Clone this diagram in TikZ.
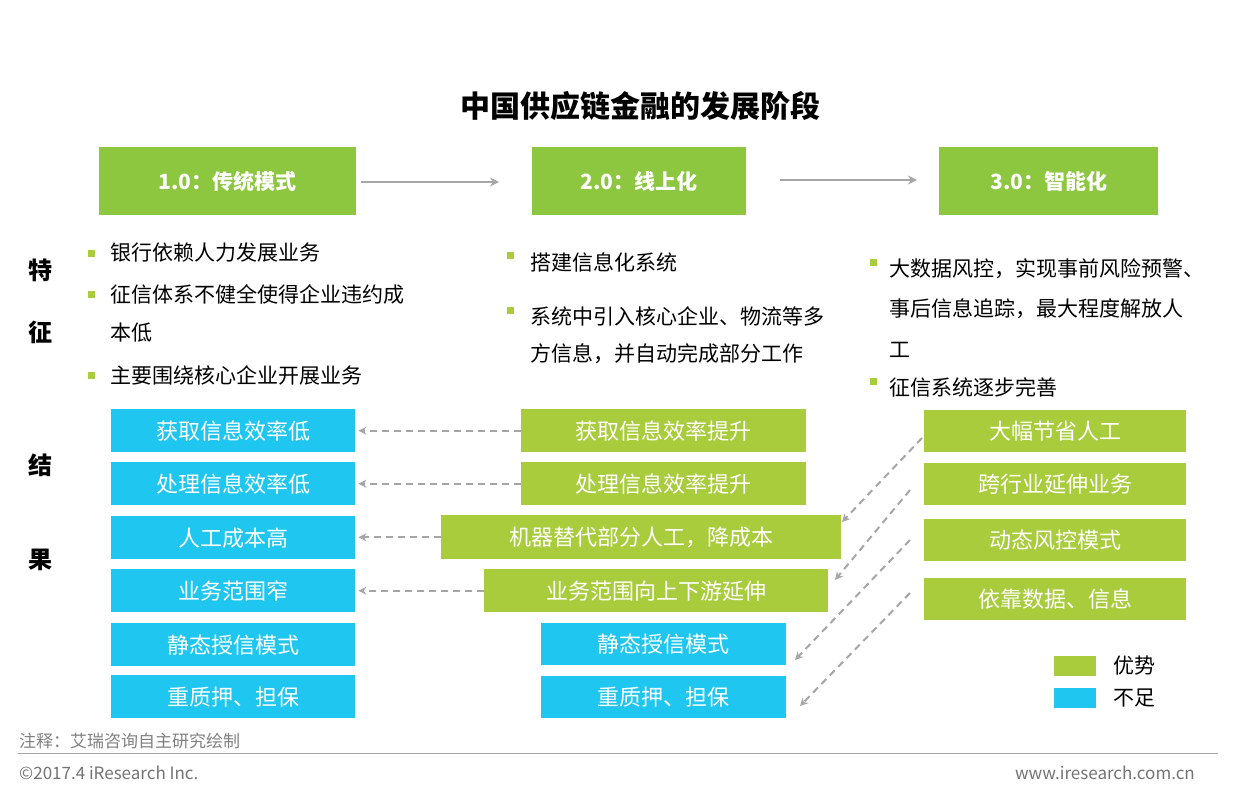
\documentclass[tikz,border=0pt]{standalone}
\usepackage{fontspec}
\setmainfont{Noto Sans CJK SC}
\usetikzlibrary{arrows.meta, positioning}
\definecolor{hdgreen}{HTML}{8DC63F}
\definecolor{resgreen}{HTML}{A8CC3C}
\definecolor{resblue}{HTML}{1FC6F0}
\definecolor{arrgray}{HTML}{A6A6A6}
\begin{document}
\begin{tikzpicture}[
    x=1pt, y=-1pt,
    head/.style={fill=hdgreen, text=white, font=\fontsize{21}{24}\selectfont\bfseries, anchor=north west, inner sep=0pt},
    res/.style={text=white, font=\fontsize{22}{26}\selectfont, anchor=north west, inner sep=0pt},
    pro/.style={res, fill=resgreen},
    con/.style={res, fill=resblue},
    txt/.style={font=\fontsize{21}{25}\selectfont, anchor=west, inner sep=0pt},
    side/.style={font=\fontsize{24}{26}\selectfont\bfseries, inner sep=0pt},
    bul/.style={fill=resgreen, minimum size=7pt, inner sep=0pt},
    arrow/.style={-{Stealth[length=9pt,width=9pt]}, arrgray, line width=2pt},
    dasharrow/.style={-{Stealth[length=8pt,width=8pt]}, arrgray, line width=2pt, dash pattern=on 7pt off 5pt}
]
\useasboundingbox (0,0) rectangle (1258,792);

% Title
\node[font=\fontsize{30}{32}\selectfont\bfseries] (title) at (640,106) {中国供应链金融的发展阶段};

% Stage headers
\node[head, minimum width=257pt, minimum height=68pt] (s1) at (99,147) {1.0：传统模式};
\node[head, minimum width=214pt, minimum height=68pt] (s2) at (532,147) {2.0：线上化};
\node[head, minimum width=219pt, minimum height=68pt] (s3) at (939,147) {3.0：智能化};
\coordinate (a1) at (361,182);
\coordinate (b1) at (499,182);
\draw[arrow] (a1) -- (b1);
\coordinate (a2) at (780,180);
\coordinate (b2) at (917,180);
\draw[arrow] (a2) -- (b2);

% Side labels
\node[side] (t1) at (40,270) {特};
\node[side] (t2) at (40,332) {征};
\node[side] (t3) at (40,465) {结};
\node[side] (t4) at (40,560) {果};

% Features
\foreach \y in {253,294,375} \node[bul] at (91,\y) {};
\node[txt] (f1) at (110,253) {银行依赖人力发展业务};
\node[txt] (f2) at (110,294) {征信体系不健全使得企业违约成};
\node[txt] (f3) at (110,333) {本低};
\node[txt] (f4) at (110,375) {主要围绕核心企业开展业务};

\foreach \y in {255,310} \node[bul] at (510,\y) {};
\node[txt] (g1) at (530,262) {搭建信息化系统};
\node[txt] (g2) at (530,316) {系统中引入核心企业、物流等多};
\node[txt] (g3) at (530,354) {方信息，并自动完成部分工作};

\foreach \y in {262,381} \node[bul] at (873,\y) {};
\node[txt] (h1) at (889,269) {大数据风控，实现事前风险预警、};
\node[txt] (h2) at (889,309) {事后信息追踪，最大程度解放人};
\node[txt] (h3) at (889,350) {工};
\node[txt] (h4) at (889,387) {征信系统逐步完善};

% Results: stage 1
\foreach \i/\y/\t in {1/409/获取信息效率低, 2/462/处理信息效率低, 3/516/人工成本高,
                      4/569/业务范围窄, 5/623/静态授信模式, 6/675/重质押、担保}
    \node[con, minimum width=244pt, minimum height=43pt] (c\i) at (111,\y) {\t};

% Results: stage 2
\node[pro, minimum width=285pt, minimum height=43pt] (p1) at (521,409) {获取信息效率提升};
\node[pro, minimum width=285pt, minimum height=43pt] (p2) at (521,462) {处理信息效率提升};
\node[pro, minimum width=400pt, minimum height=44pt] (p3) at (441,515) {机器替代部分人工，降成本};
\node[pro, minimum width=344pt, minimum height=43pt] (p4) at (484,569) {业务范围向上下游延伸};
\node[con, minimum width=245pt, minimum height=42pt] (q5) at (541,623) {静态授信模式};
\node[con, minimum width=245pt, minimum height=42pt] (q6) at (541,676) {重质押、担保};

\foreach \i in {1,...,4}
    \draw[dasharrow] (p\i.west) -- ([xshift=3pt]c\i.east |- p\i.west);

% Results: stage 3
\node[pro, minimum width=262pt, minimum height=42pt] (r1) at (924,410) {大幅节省人工};
\node[pro, minimum width=262pt, minimum height=42pt] (r2) at (924,463) {跨行业延伸业务};
\node[pro, minimum width=262pt, minimum height=42pt] (r3) at (924,519) {动态风控模式};
\node[pro, minimum width=262pt, minimum height=42pt] (r4) at (924,578) {依靠数据、信息};

\coordinate (d1) at (922,438);
\coordinate (d2) at (910,490);
\coordinate (d3) at (910,540);
\coordinate (d4) at (910,593);
\draw[dasharrow] (d1) -- (842,522);
\draw[dasharrow] (d2) -- (835,580);
\draw[dasharrow] (d3) -- (795,660);
\draw[dasharrow] (d4) -- (800,706);

% Legend
\node[fill=resgreen, minimum width=42pt, minimum height=20pt, inner sep=0pt] (lg) at (1075,666) {};
\node[fill=resblue, minimum width=42pt, minimum height=20pt, inner sep=0pt] (lb) at (1075,698) {};
\node[txt, right=17pt of lg] (lgt) {优势};
\node[txt, right=17pt of lb] (lbt) {不足};

% Footer
\node[anchor=west, text=gray, font=\fontsize{17}{19}\selectfont, inner sep=0pt] (note) at (19,741) {注释：艾瑞咨询自主研究绘制};
\draw[gray!70, line width=0.8pt] (18,753) -- (1218,753);
\node[anchor=west, text=gray!90!black, font=\fontsize{17}{19}\selectfont, inner sep=0pt] (copy) at (19,773) {©2017.4 iResearch Inc.};
\node[anchor=east, text=gray!90!black, font=\fontsize{17}{19}\selectfont, inner sep=0pt] (web) at (1195,773) {www.iresearch.com.cn};
\end{tikzpicture}
\end{document}
